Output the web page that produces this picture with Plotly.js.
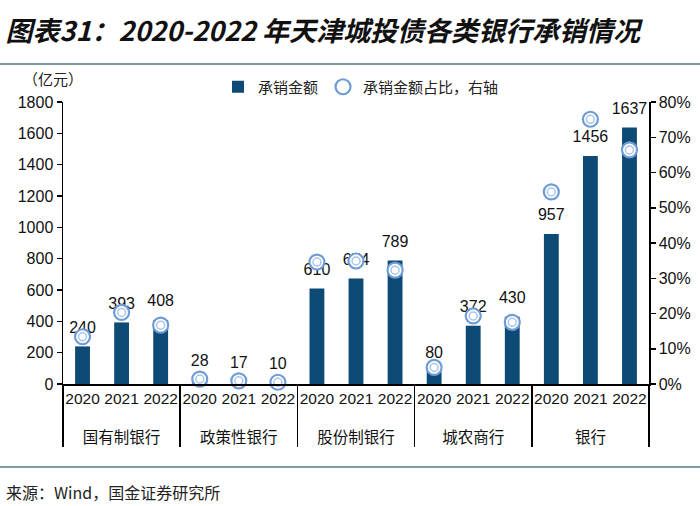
<!DOCTYPE html>
<html>
<head>
<meta charset="utf-8">
<script src="https://cdn.plot.ly/plotly-3.0.1.min.js"></script>
<style>html,body{margin:0;padding:0;background:#fff;}#chart{width:700px;height:506px;}</style>
</head>
<body>
<div id="chart"></div>
<script>
const groups = ["国有制银行","国有制银行","国有制银行","政策性银行","政策性银行","政策性银行","股份制银行","股份制银行","股份制银行","城农商行","城农商行","城农商行","银行","银行","银行"];
const years = ["2020","2021","2022","2020","2021","2022","2020","2021","2022","2020","2021","2022","2020","2021","2022"];
const amount = [240,393,408,28,17,10,610,674,789,80,372,430,957,1456,1637];
const share = [13.4,20.3,16.7,1.4,0.9,0.5,34.6,34.9,32.3,4.7,19.3,17.5,54.5,75.1,66.4];

const W = 700, H = 506, L = 63, R = 51, T = 102, B = 122;
const pw = W - L - R, ph = H - T - B;
const px = x => (x - L) / pw;
const py = y => (H - B - y) / ph;

const cjk = '"Liberation Sans", "Noto Sans CJK SC", sans-serif';
const barColor = '#0d4a75';
// group labels sit one (empty) line lower, as in the reference
const groupLabels = groups.map(g => ' <br>' + g);
const xcats = [groupLabels, years];

const traces = [
  {
    type: 'bar', name: '承销金额', x: xcats, y: amount,
    marker: {color: barColor}, hoverinfo: 'none'
  },
  {
    type: 'scatter', mode: 'markers+text', showlegend: false, x: xcats, y: amount,
    marker: {size: 14, color: 'rgba(0,0,0,0)'},
    text: amount.map(String), textposition: 'top center', cliponaxis: false,
    textfont: {family: '"Liberation Sans", Arial, sans-serif', size: 16, color: '#111'},
    hoverinfo: 'none'
  },
  {
    type: 'scatter', mode: 'markers', name: '承销金额占比，右轴', x: xcats, y: share, yaxis: 'y2',
    marker: {symbol: 'circle', size: 15, color: '#ffffff', line: {color: '#6f9bd6', width: 2.2}},
    cliponaxis: false, hoverinfo: 'none'
  },
  {
    type: 'scatter', mode: 'markers', showlegend: false, x: xcats, y: share, yaxis: 'y2',
    marker: {symbol: 'circle-open', size: 8, color: '#a8c6ec', line: {color: '#a8c6ec', width: 1.5}},
    cliponaxis: false, hoverinfo: 'none'
  }
];

const layout = {
  width: W, height: H,
  margin: {l: L, r: R, t: T, b: B},
  paper_bgcolor: '#fff', plot_bgcolor: '#fff',
  showlegend: true,
  bargap: 0.62,
  font: {family: cjk, color: '#111'},
  title: {
    text: '<b><i>图表31：2020-2022 年天津城投债各类银行承销情况</i></b>',
    font: {family: '"Noto Sans CJK SC", sans-serif', size: 27, color: '#111'},
    xref: 'container', yref: 'container', x: 0.008, xanchor: 'left', y: 1 - 32 / H, yanchor: 'middle'
  },
  legend: {
    orientation: 'h', x: px(218), xanchor: 'left', y: py(87), yanchor: 'middle',
    font: {family: '"Noto Sans CJK SC", sans-serif', size: 15, color: '#222'},
    itemwidth: 30, tracegroupgap: 0, bgcolor: 'rgba(0,0,0,0)'
  },
  xaxis: {
    type: 'multicategory', tickangle: 0, range: [-0.5, years.length - 0.5], autorange: false,
    showline: true, linecolor: '#000', linewidth: 1.5,
    ticks: '', showgrid: false,
    showdividers: true, dividercolor: '#000', dividerwidth: 1.5,
    tickfont: {family: cjk, size: 15.5, color: '#111'}
  },
  yaxis: {
    range: [0, 1800], dtick: 200, showgrid: false, zeroline: false,
    showline: true, linecolor: '#000', linewidth: 1.5,
    ticks: 'outside', ticklen: 5, tickcolor: '#000', tickwidth: 1.5,
    tickfont: {family: '"Liberation Sans", Arial, sans-serif', size: 16, color: '#111'}
  },
  yaxis2: {
    overlaying: 'y', side: 'right', range: [0, 80], dtick: 10, ticksuffix: '%',
    showgrid: false, zeroline: false,
    showline: true, linecolor: '#000', linewidth: 1.5,
    ticks: 'outside', ticklen: 5, tickcolor: '#000', tickwidth: 1.5,
    tickfont: {family: '"Liberation Sans", Arial, sans-serif', size: 16, color: '#111'}
  },
  shapes: [
    {type: 'line', xref: 'paper', yref: 'paper', x0: px(0), x1: px(700), y0: py(64), y1: py(64), line: {color: '#7f9aa8', width: 2}},
    {type: 'line', xref: 'paper', yref: 'paper', x0: px(0), x1: px(700), y0: py(467), y1: py(467), line: {color: '#7f9aa8', width: 2}}
  ],
  annotations: [
    {text: '（亿元）', xref: 'paper', yref: 'paper', x: px(53), y: py(78), xanchor: 'center', yanchor: 'middle', showarrow: false,
     font: {family: '"Noto Sans CJK SC", sans-serif', size: 15, color: '#222'}},
    {text: '来源：Wind，国金证券研究所', xref: 'paper', yref: 'paper', x: px(4), y: py(492), xanchor: 'left', yanchor: 'middle', showarrow: false,
     font: {family: '"Noto Sans CJK SC", sans-serif', size: 16, color: '#222'}}
  ]
};

Plotly.newPlot('chart', traces, layout, {displayModeBar: false, staticPlot: true});
</script>
</body>
</html>
